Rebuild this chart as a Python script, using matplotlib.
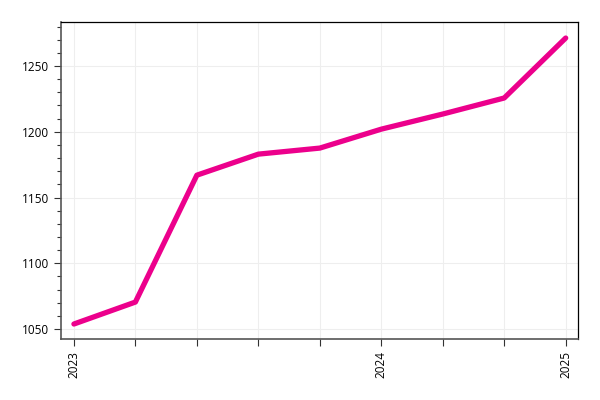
import matplotlib
matplotlib.use("Agg")
import matplotlib.pyplot as plt
from matplotlib.ticker import MultipleLocator

plt.rcParams.update({"font.family": ["Open Sans", "DejaVu Sans"]})

points = ["p1", "p2", "p3", "p4", "p5", "p6", "p7", "p8", "p9"]
tick_labels = ["2023", "", "", "", "", "2024", "", "", "2025"]
values = [1053.8, 1070.5, 1167.0, 1183.0, 1187.6, 1202.0, 1213.5, 1225.7, 1271.3]

fig = plt.figure(figsize=(6, 4), dpi=100)
ax = fig.add_axes([0.1017, 0.1525, 0.8616, 0.7925])
x = list(range(len(points)))
ax.plot(x, values, color="#EC008C", lw=3.8, solid_capstyle="round",
        solid_joinstyle="round", zorder=3)

ax.set_xlim(-0.21, 8.2)
ax.set_ylim(1042.4, 1283.5)
ax.set_xticks(x)
ax.set_xticklabels(tick_labels, rotation=90, fontsize=8.5)
ax.yaxis.set_major_locator(MultipleLocator(50))
ax.yaxis.set_minor_locator(MultipleLocator(10))
ax.tick_params(axis="y", labelsize=8.5, length=5, width=0.8, color="#333333")
ax.tick_params(axis="y", which="minor", length=3, width=0.8, color="#333333")
ax.tick_params(axis="x", length=5, width=0.8, color="#333333")
ax.grid(True, color="#eeeeee", lw=0.8, zorder=0)
for s in ["left", "bottom"]:
    ax.spines[s].set_color("#555555")
    ax.spines[s].set_linewidth(1.2)
for s in ["top", "right"]:
    ax.spines[s].set_color("#000000")
    ax.spines[s].set_linewidth(0.9)

fig.savefig("out.png", dpi=100, facecolor="white")
